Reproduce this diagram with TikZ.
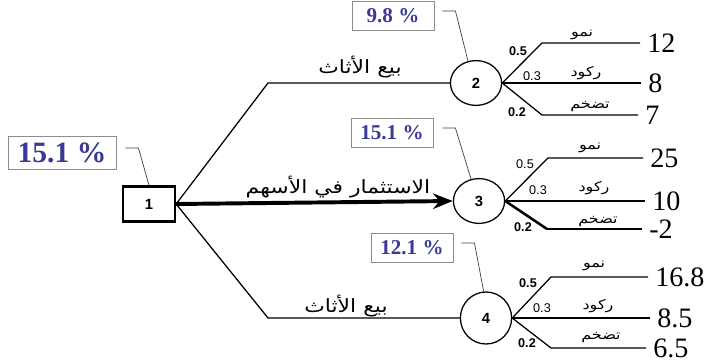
\documentclass[tikz,border=0pt]{standalone}
\usepackage{fontspec}
\setmainfont{Liberation Serif}
\setsansfont{Liberation Sans}
\newfontfamily\arabicfont[Script=Arabic, FakeStretch=1.2]{DejaVu Sans}
\TeXXeTstate=1
\usepackage{tikz}
\usetikzlibrary{arrows.meta, positioning, calc, shapes.geometric}
\definecolor{pctblue}{RGB}{58,58,150}

\begin{document}
\begin{tikzpicture}[x=0.025cm, y=-0.025cm,
  root/.style={draw, line width=1.6pt, minimum width=1.3cm, minimum height=0.88cm,
               font=\sffamily\bfseries\fontsize{10.5}{12}\selectfont},
  chance/.style={draw, ellipse, line width=0.9pt, minimum width=1.28cm, minimum height=1.12cm,
                 inner sep=0pt, font=\sffamily\bfseries\fontsize{10.5}{12}\selectfont},
  pct/.style={draw=black!45, line width=0.6pt, fill=white, minimum width=2.05cm,
              minimum height=0.72cm, text=pctblue, font=\bfseries\fontsize{15}{17}\selectfont},
  prob/.style={font=\sffamily\bfseries\fontsize{9}{10}\selectfont, inner sep=1pt},
  probr/.style={font=\sffamily\fontsize{9}{10}\selectfont, inner sep=1pt},
  state/.style={font=\arabicfont\fontsize{9.5}{10}\selectfont, inner sep=1pt},
  choice/.style={font=\arabicfont\fontsize{13}{15}\selectfont, inner sep=1pt},
  payoff/.style={anchor=west, font=\fontsize{20}{22}\selectfont, inner xsep=5pt, inner ysep=1pt},
  branch/.style={line width=0.9pt},
  bigarr/.style={-{Stealth[length=14pt, width=11pt]}, line width=2.8pt},
  lead/.style={line width=0.5pt, black!75},
]
  \useasboundingbox (0,0) rectangle (716,362);

  % ── Decision node and its value ──
  \node[root] (b1) at (149,204) {1};
  \node[pct, minimum width=2.7cm, minimum height=0.82cm, font=\bfseries\fontsize{21}{23}\selectfont]
    (p1) at (62,153) {15.1 \%};

  % ── Chance nodes ──
  \node[chance] (c2) at (476,83)  {2};
  \node[chance] (c3) at (479,201) {3};
  \node[chance, minimum height=1.3cm] (c4) at (486,318) {4};

  \node[pct] (p2) at (393,16)  {9.8 \%};
  \node[pct] (p3) at (392,133) {15.1 \%};
  \node[pct] (p4) at (412,248) {12.1 \%};

  % ── Kinks of the decision branches ──
  \coordinate (ku) at (268,83);
  \coordinate (kd) at (268,318);

  % ── Decision branches ──
  \draw[branch] (b1.east) -- (ku) -- (c2.west);
  \draw[bigarr] (b1.east) -- (c3.west);
  \draw[branch] (b1.east) -- (kd) -- (c4.west);

  \node[choice] (a2) at (360,67)  {\beginR بيع الأثاث\endR};
  \node[choice] (a3) at (338,187) {\beginR الاستثمار في الأسهم\endR};
  \node[choice] (a4) at (346,306) {\beginR بيع الأثاث\endR};

  % ── Leader lines ──
  \draw[lead] ($(p1.east)+(9,-5)$) -- ++(13,0) -- (b1.north);
  \draw[lead] ($(p2.east)+(8,-5)$) -- ++(13,0) -- (c2.110);
  \draw[lead] ($(p3.east)+(9,-5)$) -- ++(13,0) -- (c3.110);
  \draw[lead] ($(p4.east)+(8,-5)$) -- ++(13,0) -- (c4.95);

  % ══ Node 2 ══
  \coordinate (k2u) at (542,43);
  \coordinate (k2d) at (542,115);
  \node[payoff] (v21) at (640,43)  {12};
  \node[payoff] (v22) at (641,83)  {8};
  \node[payoff] (v23) at (638,115) {7};
  \draw[branch] (c2.east) -- (k2u) -- (v21.west);
  \draw[branch] (c2.east) -- (v22.west);
  \draw[branch] (c2.east) -- (k2d) -- (v23.west);
  \node[prob]  at (518,51)  {0.5};
  \node[probr] at (532,76)  {0.3};
  \node[prob]  at (517,112) {0.2};
  \node[state] at (582,35)  {\beginR نمو\endR};
  \node[state] at (586,73)  {\beginR ركود\endR};
  \node[state] at (590,107) {\beginR تضخم\endR};

  % ══ Node 3 ══
  \coordinate (k3u) at (548,158);
  \coordinate (k3d) at (547,229);
  \node[payoff] (v31) at (643,158) {25};
  \node[payoff] (v32) at (645,201) {10};
  \node[payoff] (v33) at (642,229) {-2};
  \draw[branch] (c3.east) -- (k3u) -- (v31.west);
  \draw[branch] (c3.east) -- (v32.west);
  \draw[branch, line width=1.8pt] (c3.east) -- (k3d);
  \draw[branch] (k3d) -- (v33.west);
  \node[probr] at (525,164) {0.5};
  \node[probr] at (538,190) {0.3};
  \node[prob]  at (523,227) {0.2};
  \node[state] at (590,148) {\beginR نمو\endR};
  \node[state] at (594,188) {\beginR ركود\endR};
  \node[state] at (598,222) {\beginR تضخم\endR};

  % ══ Node 4 ══
  \coordinate (k4u) at (551,277);
  \coordinate (k4d) at (551,348);
  \node[payoff] (v41) at (648,277) {16.8};
  \node[payoff] (v42) at (650,318) {8.5};
  \node[payoff] (v43) at (646,348) {6.5};
  \draw[branch] (c4.east) -- (k4u) -- (v41.west);
  \draw[branch] (c4.east) -- (v42.west);
  \draw[branch] (c4.east) -- (k4d) -- (v43.west);
  \node[prob]  at (528,283) {0.5};
  \node[probr] at (542,308) {0.3};
  \node[prob]  at (527,343) {0.2};
  \node[state] at (594,266) {\beginR نمو\endR};
  \node[state] at (598,306) {\beginR ركود\endR};
  \node[state] at (601,338) {\beginR تضخم\endR};

\end{tikzpicture}
\end{document}
